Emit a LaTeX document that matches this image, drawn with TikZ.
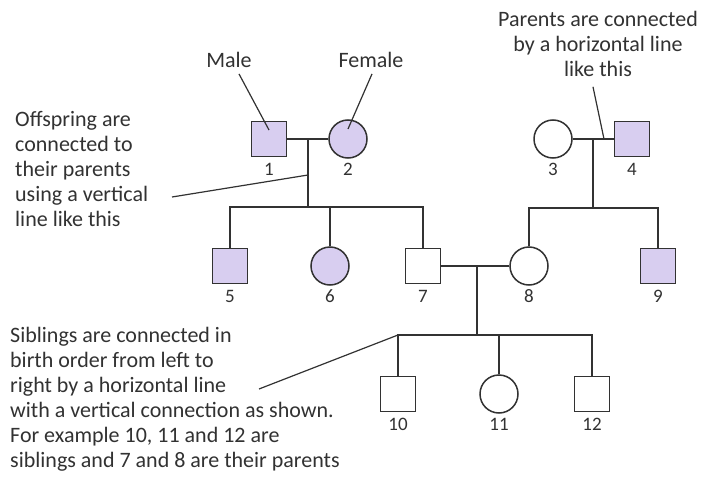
\documentclass[tikz,border=0pt]{standalone}
\usepackage{fontspec}
\setmainfont{Carlito}
\usetikzlibrary{calc}
\definecolor{lilac}{RGB}{216,206,240}
\definecolor{ink}{RGB}{50,50,50}

\tikzstyle{male} = [rectangle, draw=ink, line width=1.5pt, minimum size=35pt, inner sep=0pt]
\tikzstyle{female} = [circle, draw=ink, line width=1.5pt, minimum size=38pt, inner sep=0pt]
\tikzstyle{shaded} = [fill=lilac]
\tikzstyle{num} = [font=\fontsize{19}{19}\selectfont, text=ink, inner sep=0pt, anchor=base]
\tikzstyle{note} = [font=\fontsize{22}{25}\selectfont, text=ink, inner sep=0pt]
\tikzstyle{link} = [draw=ink, line width=1.2pt]

\begin{document}
\begin{tikzpicture}[x=1pt, y=-1pt,
    mtag/.style={label={[num, yshift=-18.7pt]below:#1}},
    ftag/.style={label={[num, yshift=-17.2pt]below:#1}}]
\useasboundingbox[fill=white] (0,0) rectangle (705,479);

\node[male, shaded, mtag=1] (i1) at (269,139) {};
\node[female, shaded, ftag=2] (i2) at (348,139) {};
\node[female, ftag=3] (i3) at (553,139) {};
\node[male, shaded, mtag=4] (i4) at (632,139) {};

\node[male, shaded, mtag=5] (i5) at (230,266) {};
\node[female, shaded, ftag=6] (i6) at (330,266) {};
\node[male, mtag=7] (i7) at (423,266) {};
\node[female, ftag=8] (i8) at (529,266) {};
\node[male, shaded, mtag=9] (i9) at (658,266) {};

\node[male, mtag=10] (i10) at (398,394) {};
\node[female, ftag=11] (i11) at (499,394) {};
\node[male, mtag=12] (i12) at (592,394) {};

\coordinate (m12) at (308,139);
\coordinate (s1) at (308,207);
\coordinate (m34) at (593,139);
\coordinate (s2) at (593,208);
\coordinate (m78) at (477,266);
\coordinate (s3) at (477,335);

\draw[link] (i1) -- (i2);
\draw[link] (m12) -- (s1);
\draw[link] (i5.north) |- (s1) -| (i7.north);
\draw[link] (i6.north) -- (i6 |- s1);

\draw[link] (i3) -- (i4);
\draw[link] (m34) -- (s2);
\draw[link] (i8.north) |- (s2) -| (i9.north);

\draw[link] (i7) -- (i8);
\draw[link] (m78) -- (s3);
\draw[link] (i10.north) |- (s3) -| (i12.north);
\draw[link] (i11.north) -- (i11 |- s3);

\node[note] (male) at (229,60) {Male};
\node[note] (female) at (371,60) {Female};
\node[note, anchor=north, align=center] (parents) at (598,11)
    {Parents are connected\\by a horizontal line\\like this};
\node[note, anchor=north west, align=left] (offspring) at (15,111)
    {Offspring are\\connected to\\their parents\\using a vertical\\line like this};
\node[note, anchor=north west, align=left] (siblings) at (10,327)
    {Siblings are connected in\\birth order from left to\\right by a horizontal line\\with a vertical connection as shown.\\For example 10, 11 and 12 are\\siblings and 7 and 8 are their parents};

\coordinate (offtip) at (172,197);
\coordinate (sibtip) at (259,389);

\draw[link] ([xshift=10pt,yshift=-6pt]male.south) -- ([yshift=9pt]i1.center);
\draw[link] ([xshift=1pt,yshift=-6pt]female.south) -- ([yshift=10pt]i2.center);
\draw[link] ([xshift=-5pt,yshift=-10pt]parents.south) -- ($(m34)+(11,0)$);
\draw[link] (offtip) -- ($(m12)+(0,36)$);
\draw[link] (sibtip) -- (i10 |- s3);
\end{tikzpicture}
\end{document}
